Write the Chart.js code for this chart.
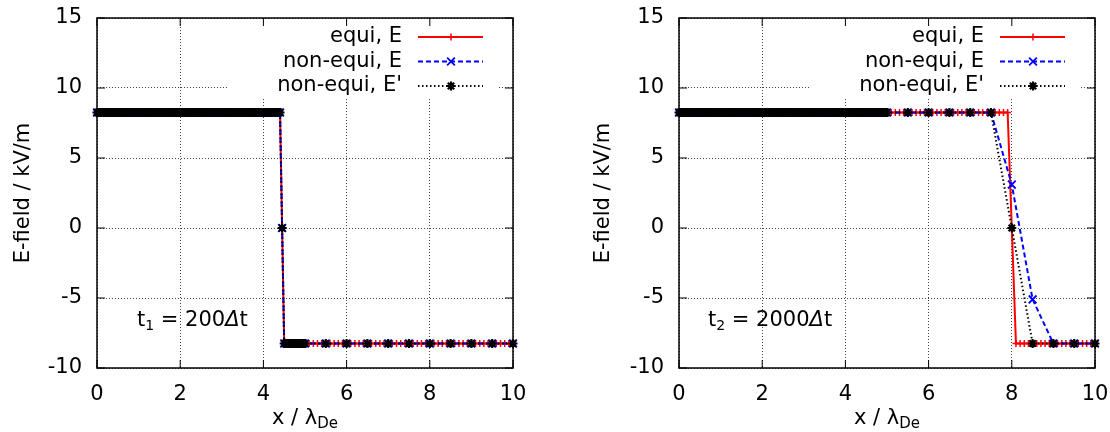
<!DOCTYPE html>
<html>
<head>
<meta charset="utf-8">
<script src="https://cdn.jsdelivr.net/npm/chart.js@4.4.1/dist/chart.umd.min.js"></script>
<style>
  html, body { margin: 0; padding: 0; background: #fff; }
  #wrap { display: flex; width: 1110px; height: 432px; }
  .panel { position: relative; width: 555px; height: 432px; }
</style>
</head>
<body>
<div id="wrap">
  <div class="panel"><canvas id="leftPanel"></canvas></div>
  <div class="panel"><canvas id="rightPanel"></canvas></div>
</div>
<script>
// plateau levels of the field (kV/m)
const H = 8.25;
const L = -8.25;

const seriesNames = ["equi, E", "non-equi, E", "non-equi, E'"];

// equidistant grid, same for both snapshots
const equiX = [
  0, 0.1, 0.2, 0.3, 0.4, 0.5, 0.6, 0.7, 0.8, 0.9,
  1, 1.1, 1.2, 1.3, 1.4, 1.5, 1.6, 1.7, 1.8, 1.9,
  2, 2.1, 2.2, 2.3, 2.4, 2.5, 2.6, 2.7, 2.8, 2.9,
  3, 3.1, 3.2, 3.3, 3.4, 3.5, 3.6, 3.7, 3.8, 3.9,
  4, 4.1, 4.2, 4.3, 4.4, 4.5, 4.6, 4.7, 4.8, 4.9,
  5, 5.1, 5.2, 5.3, 5.4, 5.5, 5.6, 5.7, 5.8, 5.9,
  6, 6.1, 6.2, 6.3, 6.4, 6.5, 6.6, 6.7, 6.8, 6.9,
  7, 7.1, 7.2, 7.3, 7.4, 7.5, 7.6, 7.7, 7.8, 7.9,
  8, 8.1, 8.2, 8.3, 8.4, 8.5, 8.6, 8.7, 8.8, 8.9,
  9, 9.1, 9.2, 9.3, 9.4, 9.5, 9.6, 9.7, 9.8, 9.9,
  10
];

// t1 = 200 dt
const equiE1 = [
  H, H, H, H, H, H, H, H, H, H,
  H, H, H, H, H, H, H, H, H, H,
  H, H, H, H, H, H, H, H, H, H,
  H, H, H, H, H, H, H, H, H, H,
  H, H, H, H, H, L, L, L, L, L,
  L, L, L, L, L, L, L, L, L, L,
  L, L, L, L, L, L, L, L, L, L,
  L, L, L, L, L, L, L, L, L, L,
  L, L, L, L, L, L, L, L, L, L,
  L, L, L, L, L, L, L, L, L, L,
  L
];

const nonEquiX1 = [
  0, 0.05, 0.1, 0.15, 0.2, 0.25, 0.3, 0.35, 0.4, 0.45,
  0.5, 0.55, 0.6, 0.65, 0.7, 0.75, 0.8, 0.85, 0.9, 0.95,
  1, 1.05, 1.1, 1.15, 1.2, 1.25, 1.3, 1.35, 1.4, 1.45,
  1.5, 1.55, 1.6, 1.65, 1.7, 1.75, 1.8, 1.85, 1.9, 1.95,
  2, 2.05, 2.1, 2.15, 2.2, 2.25, 2.3, 2.35, 2.4, 2.45,
  2.5, 2.55, 2.6, 2.65, 2.7, 2.75, 2.8, 2.85, 2.9, 2.95,
  3, 3.05, 3.1, 3.15, 3.2, 3.25, 3.3, 3.35, 3.4, 3.45,
  3.5, 3.55, 3.6, 3.65, 3.7, 3.75, 3.8, 3.85, 3.9, 3.95,
  4, 4.05, 4.1, 4.15, 4.2, 4.25, 4.3, 4.35, 4.4, 4.45,
  4.5, 4.55, 4.6, 4.65, 4.7, 4.75, 4.8, 4.85, 4.9, 4.95,
  5, 5.5, 6, 6.5, 7, 7.5, 8, 8.5, 9, 9.5,
  10
];

const nonEquiE1 = [
  H, H, H, H, H, H, H, H, H, H,
  H, H, H, H, H, H, H, H, H, H,
  H, H, H, H, H, H, H, H, H, H,
  H, H, H, H, H, H, H, H, H, H,
  H, H, H, H, H, H, H, H, H, H,
  H, H, H, H, H, H, H, H, H, H,
  H, H, H, H, H, H, H, H, H, H,
  H, H, H, H, H, H, H, H, H, H,
  H, H, H, H, H, H, H, H, H, 0,
  L, L, L, L, L, L, L, L, L, L,
  L, L, L, L, L, L, L, L, L, L,
  L
];

const nonEquiEp1 = [
  H, H, H, H, H, H, H, H, H, H,
  H, H, H, H, H, H, H, H, H, H,
  H, H, H, H, H, H, H, H, H, H,
  H, H, H, H, H, H, H, H, H, H,
  H, H, H, H, H, H, H, H, H, H,
  H, H, H, H, H, H, H, H, H, H,
  H, H, H, H, H, H, H, H, H, H,
  H, H, H, H, H, H, H, H, H, H,
  H, H, H, H, H, H, H, H, H, 0,
  L, L, L, L, L, L, L, L, L, L,
  L, L, L, L, L, L, L, L, L, L,
  L
];

// t2 = 2000 dt
const equiE2 = [
  H, H, H, H, H, H, H, H, H, H,
  H, H, H, H, H, H, H, H, H, H,
  H, H, H, H, H, H, H, H, H, H,
  H, H, H, H, H, H, H, H, H, H,
  H, H, H, H, H, H, H, H, H, H,
  H, H, H, H, H, H, H, H, H, H,
  H, H, H, H, H, H, H, H, H, H,
  H, H, H, H, H, H, H, H, H, H,
  0, L, L, L, L, L, L, L, L, L,
  L, L, L, L, L, L, L, L, L, L,
  L
];

const nonEquiX2 = [
  0, 0.05, 0.1, 0.15, 0.2, 0.25, 0.3, 0.35, 0.4, 0.45,
  0.5, 0.55, 0.6, 0.65, 0.7, 0.75, 0.8, 0.85, 0.9, 0.95,
  1, 1.05, 1.1, 1.15, 1.2, 1.25, 1.3, 1.35, 1.4, 1.45,
  1.5, 1.55, 1.6, 1.65, 1.7, 1.75, 1.8, 1.85, 1.9, 1.95,
  2, 2.05, 2.1, 2.15, 2.2, 2.25, 2.3, 2.35, 2.4, 2.45,
  2.5, 2.55, 2.6, 2.65, 2.7, 2.75, 2.8, 2.85, 2.9, 2.95,
  3, 3.05, 3.1, 3.15, 3.2, 3.25, 3.3, 3.35, 3.4, 3.45,
  3.5, 3.55, 3.6, 3.65, 3.7, 3.75, 3.8, 3.85, 3.9, 3.95,
  4, 4.05, 4.1, 4.15, 4.2, 4.25, 4.3, 4.35, 4.4, 4.45,
  4.5, 4.55, 4.6, 4.65, 4.7, 4.75, 4.8, 4.85, 4.9, 4.95,
  5, 5.5, 6, 6.5, 7, 7.5, 8, 8.5, 9, 9.5,
  10
];

const nonEquiE2 = [
  H, H, H, H, H, H, H, H, H, H,
  H, H, H, H, H, H, H, H, H, H,
  H, H, H, H, H, H, H, H, H, H,
  H, H, H, H, H, H, H, H, H, H,
  H, H, H, H, H, H, H, H, H, H,
  H, H, H, H, H, H, H, H, H, H,
  H, H, H, H, H, H, H, H, H, H,
  H, H, H, H, H, H, H, H, H, H,
  H, H, H, H, H, H, H, H, H, H,
  H, H, H, H, H, H, H, H, H, H,
  H, H, H, H, H, H, 3.1, -5.1, L, L,
  L
];

const nonEquiEp2 = [
  H, H, H, H, H, H, H, H, H, H,
  H, H, H, H, H, H, H, H, H, H,
  H, H, H, H, H, H, H, H, H, H,
  H, H, H, H, H, H, H, H, H, H,
  H, H, H, H, H, H, H, H, H, H,
  H, H, H, H, H, H, H, H, H, H,
  H, H, H, H, H, H, H, H, H, H,
  H, H, H, H, H, H, H, H, H, H,
  H, H, H, H, H, H, H, H, H, H,
  H, H, H, H, H, H, H, H, H, H,
  H, H, H, H, H, H, 0, L, L, L,
  L
];

const FONT = "'DejaVu Sans', sans-serif";
Chart.defaults.font.family = FONT;
Chart.defaults.font.size = 21;
Chart.defaults.color = "#000";

const pts = (xs, ys) => xs.map((x, i) => ({ x: x, y: ys[i] }));

function drawMark(ctx, ds, x, y) {
  ctx.strokeStyle = ds.pointBorderColor;
  ctx.lineWidth = ds.pointBorderWidth;
  ctx.setLineDash([]);
  Chart.helpers.drawPoint(ctx, {
    pointStyle: ds.pointStyle,
    radius: ds.pointRadius,
    borderWidth: ds.pointBorderWidth,
    rotation: 0
  }, x, y);
}

// gnuplot look: frame with inward ticks, key box, time stamp, x label with subscript
const gnuplotDecor = {
  id: "gnuplotDecor",
  beforeDatasetsDraw(chart) {
    const a = chart.chartArea, ctx = chart.ctx;
    ctx.save();
    ctx.fillStyle = "#fff";
    ctx.fillRect(a.left + 130, a.top + 1, a.width - 146, 80);
    ctx.restore();
  },
  afterDraw(chart) {
    const { ctx, chartArea: a, scales } = chart;
    const o = chart.options.plugins.gnuplotDecor;
    ctx.save();

    ctx.strokeStyle = "#000";
    ctx.setLineDash([]);
    ctx.lineWidth = 1;
    ctx.beginPath();
    scales.x.ticks.forEach(t => {
      const px = scales.x.getPixelForValue(t.value);
      ctx.moveTo(px, a.bottom); ctx.lineTo(px, a.bottom - 8);
      ctx.moveTo(px, a.top); ctx.lineTo(px, a.top + 8);
    });
    scales.y.ticks.forEach(t => {
      const py = scales.y.getPixelForValue(t.value);
      ctx.moveTo(a.left, py); ctx.lineTo(a.left + 8, py);
      ctx.moveTo(a.right, py); ctx.lineTo(a.right - 8, py);
    });
    ctx.stroke();
    ctx.lineWidth = 1.5;
    ctx.strokeRect(a.left, a.top, a.width, a.height);

    // key
    ctx.font = "21px " + FONT;
    ctx.fillStyle = "#000";
    ctx.textAlign = "right";
    ctx.textBaseline = "middle";
    chart.data.datasets.forEach((ds, i) => {
      const y = a.top + 19 + i * 24.5;
      ctx.fillText(ds.label, a.right - 111, y);
      ctx.strokeStyle = ds.borderColor;
      ctx.lineWidth = ds.borderWidth;
      ctx.setLineDash(ds.borderDash || []);
      ctx.beginPath();
      ctx.moveTo(a.right - 95, y);
      ctx.lineTo(a.right - 30, y);
      ctx.stroke();
      drawMark(ctx, ds, a.right - 62, y);
    });

    // time stamp
    ctx.fillStyle = "#000";
    ctx.textAlign = "left";
    ctx.textBaseline = "alphabetic";
    let x = a.left + o.stampOffset;
    const base = a.bottom - 42;
    const put = (s, font, dy) => {
      ctx.font = font;
      ctx.fillText(s, x, base + dy);
      x += ctx.measureText(s).width;
    };
    put("t", "21px " + FONT, 0);
    put(o.stampIndex, "14px " + FONT, 4);
    put(" = " + o.stampSteps, "21px " + FONT, 0);
    put("\u0394", "italic 21px " + FONT, 0);
    put("t", "21px " + FONT, 0);

    // x axis label
    ctx.font = "21px " + FONT;
    const w1 = ctx.measureText("x / \u03bb").width;
    ctx.font = "15px " + FONT;
    const w2 = ctx.measureText("De").width;
    const x0 = (a.left + a.right) / 2 - (w1 + w2) / 2;
    const yb = a.bottom + 56;
    ctx.font = "21px " + FONT;
    ctx.fillText("x / \u03bb", x0, yb);
    ctx.font = "15px " + FONT;
    ctx.fillText("De", x0 + w1, yb + 4);

    ctx.restore();
  }
};

function panelChart(canvasId, equiY, nonEquiX, nonEquiY, nonEquiYp, p) {
  const common = { fill: false, tension: 0, clip: 10, pointHoverRadius: 0 };
  return new Chart(document.getElementById(canvasId), {
    type: "line",
    data: {
      datasets: [
        Object.assign({
          label: seriesNames[0],
          data: pts(equiX, equiY),
          borderColor: "#ff0000",
          borderWidth: 2,
          pointStyle: "cross",
          pointRadius: 3.5,
          pointBorderWidth: 1.5,
          pointBorderColor: "#ff0000",
          order: 3
        }, common),
        Object.assign({
          label: seriesNames[1],
          data: pts(nonEquiX, nonEquiY),
          borderColor: "#0000ff",
          borderWidth: 2,
          borderDash: [5, 3],
          pointStyle: "crossRot",
          pointRadius: 5.5,
          pointBorderWidth: 1.8,
          pointBorderColor: "#0000ff",
          order: 2
        }, common),
        Object.assign({
          label: seriesNames[2],
          data: pts(nonEquiX, nonEquiYp),
          borderColor: "#000000",
          borderWidth: 2,
          borderDash: [1.5, 2.5],
          pointStyle: "star",
          pointRadius: 4.5,
          pointBorderWidth: 2.2,
          pointBorderColor: "#000000",
          order: 1
        }, common)
      ]
    },
    options: {
      responsive: true,
      maintainAspectRatio: false,
      animation: false,
      devicePixelRatio: 1,
      layout: { padding: { left: 0, right: p.padRight, top: 18, bottom: 0 } },
      events: [],
      scales: {
        x: {
          type: "linear",
          min: 0,
          max: 10,
          ticks: { stepSize: 2, padding: 14, maxRotation: 0 },
          grid: { color: "#444", lineWidth: 1, drawTicks: false },
          border: { display: false, dash: [1, 2] },
          afterFit: s => {
            s.height = 64;
            s.paddingLeft = 0;
            s.paddingRight = 0;
          }
        },
        y: {
          type: "linear",
          min: -10,
          max: 15,
          ticks: { stepSize: 5, padding: 15 },
          grid: { color: "#444", lineWidth: 1, drawTicks: false },
          border: { display: false, dash: [1, 2] },
          title: {
            display: true,
            text: "E-field / kV/m",
            padding: { top: p.titlePad, bottom: 0 }
          },
          afterFit: s => {
            s.width = p.axisWidth;
            s.paddingTop = 0;
            s.paddingBottom = 0;
          }
        }
      },
      plugins: {
        legend: { display: false },
        tooltip: { enabled: false },
        gnuplotDecor: {
          stampIndex: p.stampIndex,
          stampSteps: p.stampSteps,
          stampOffset: p.stampOffset
        }
      }
    },
    plugins: [gnuplotDecor]
  });
}

panelChart("leftPanel", equiE1, nonEquiX1, nonEquiE1, nonEquiEp1,
  { padRight: 42, axisWidth: 97, titlePad: 11, stampIndex: "1", stampSteps: "200", stampOffset: 40 });
panelChart("rightPanel", equiE2, nonEquiX2, nonEquiE2, nonEquiEp2,
  { padRight: 15, axisWidth: 124, titlePad: 36, stampIndex: "2", stampSteps: "2000", stampOffset: 29 });
</script>
</body>
</html>
